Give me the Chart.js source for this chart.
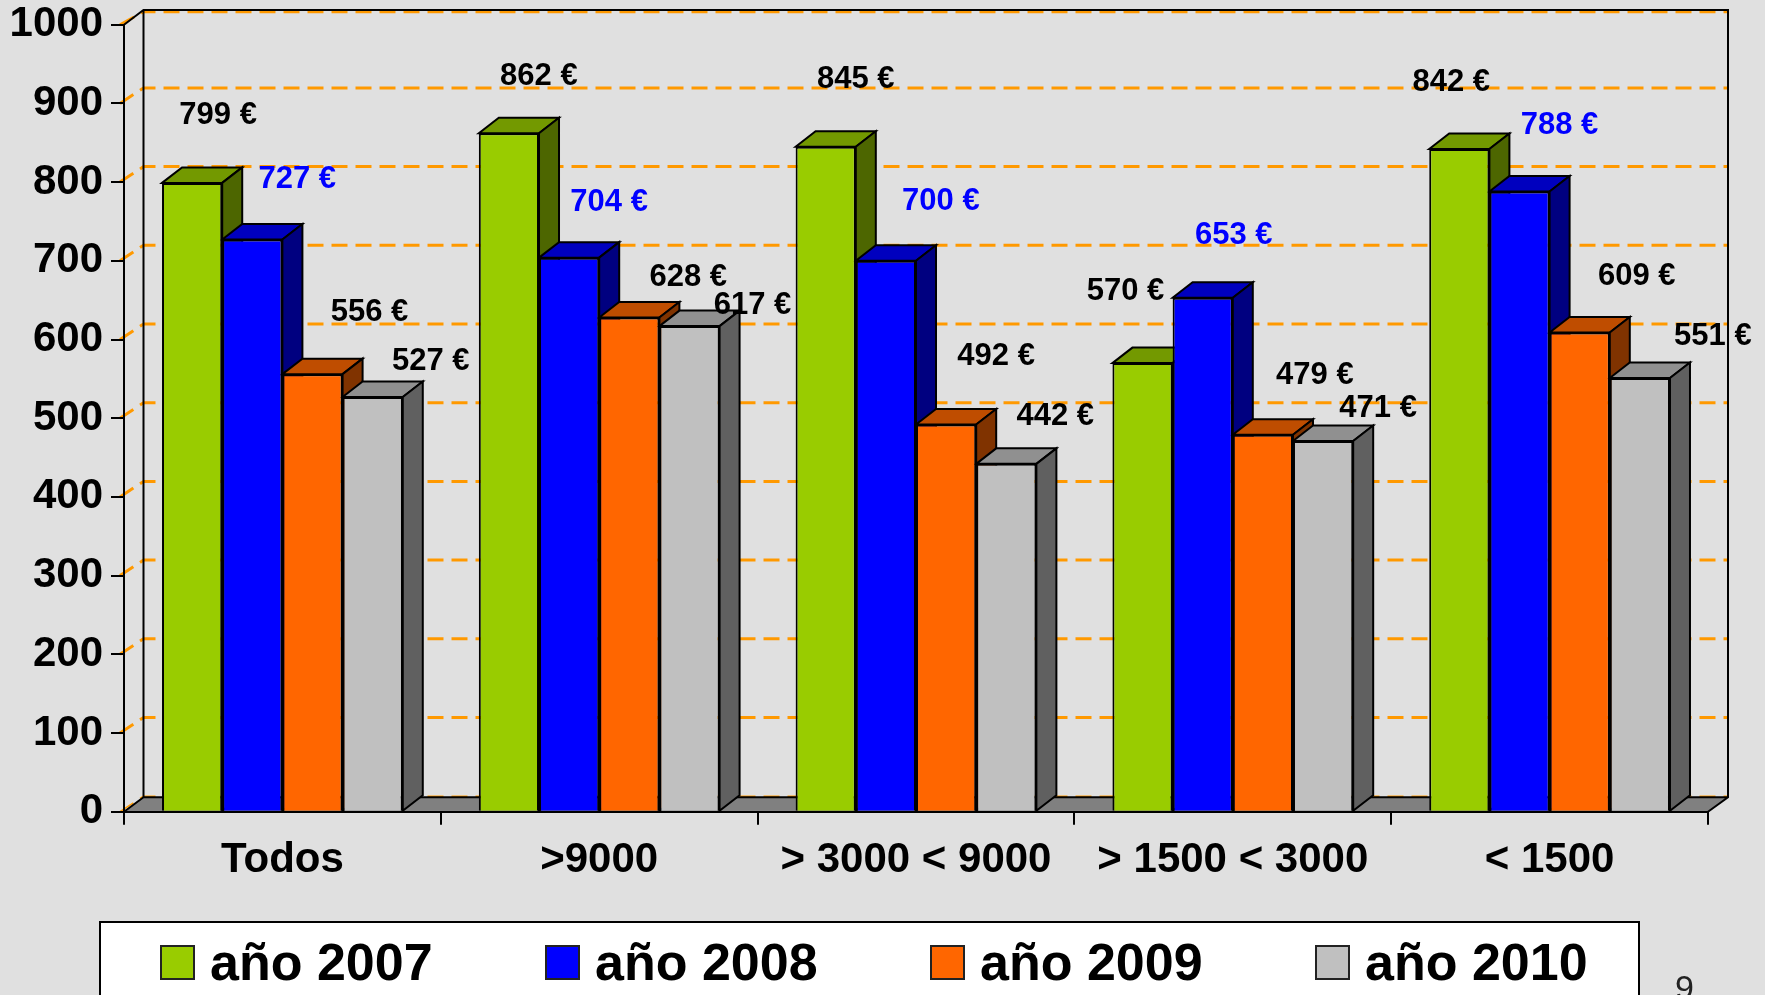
<!DOCTYPE html>
<html>
<head>
<meta charset="utf-8">
<title>Chart</title>
<script src="https://cdn.jsdelivr.net/npm/chart.js@4"></script>
<style>
  html, body { margin: 0; padding: 0; background: #e0e0e0; overflow: hidden; }
  #grafico { display: block; }
</style>
</head>
<body>
<div style="width:1765px;height:995px"><canvas id="grafico"></canvas></div>
<script>
const categorias = ["Todos", ">9000", "> 3000 < 9000", "> 1500 < 3000", "< 1500"];
const anio2007 = [799, 862, 845, 570, 842];
const anio2008 = [727, 704, 700, 653, 788];
const anio2009 = [556, 628, 492, 479, 609];
const anio2010 = [527, 617, 442, 471, 551];
const ticksY = [0, 100, 200, 300, 400, 500, 600, 700, 800, 900, 1000];

const FUENTE = '"Liberation Sans", Arial, sans-serif';
const PROF_X = 20, PROF_Y = 15.5; // depth of the fake 3D

// colours: front, top, side
const colores = [
  ["#99cc00", "#739900", "#4d6600"],
  ["#0000ff", "#0000bf", "#000080"],
  ["#ff6600", "#bf4d00", "#803300"],
  ["#c0c0c0", "#909090", "#606060"],
];

// the value labels were placed by hand in the original, shift from top centre of each bar
const desplazaEtiquetas = [
  [[26, -67], [30, -57], [30, -67], [-17, -72], [-8, -67]],
  [[45, -60], [40, -55], [55, -59], [31, -62], [40, -66]],
  [[57, -62], [59, -40], [50, -68], [52, -59], [57, -56]],
  [[58, -35], [63, -21], [49, -47], [55, -33], [73, -42]],
];

function poligono(ctx, puntos, relleno, borde) {
  ctx.beginPath();
  puntos.forEach((p, i) => (i ? ctx.lineTo(p[0], p[1]) : ctx.moveTo(p[0], p[1])));
  ctx.closePath();
  ctx.fillStyle = relleno;
  ctx.fill();
  if (borde) {
    ctx.strokeStyle = borde;
    ctx.lineWidth = 2;
    ctx.stroke();
  }
}

const caja3d = {
  id: "caja3d",
  // walls, floor and orange gridlines behind everything
  beforeDraw(chart) {
    const { ctx, chartArea: a, scales: { y } } = chart;
    const izq = a.left + PROF_X - 0.5, der = a.right + PROF_X;
    const arriba = 10, fondo = a.bottom - PROF_Y + 1;
    ctx.save();
    poligono(ctx, [[a.left, a.bottom], [izq, fondo], [der, fondo], [a.right, a.bottom]], "#808080", null);

    ctx.strokeStyle = "#ff9900";
    ctx.lineWidth = 3;
    ctx.setLineDash([16, 8]);
    ticksY.forEach((v) => {
      const yp = y.getPixelForValue(v);
      const yFondo = v === 1000 ? 11.7 : yp - PROF_Y;
      ctx.lineWidth = v === 0 ? 1.5 : 3;
      ctx.lineDashOffset = 4;
      ctx.beginPath();
      ctx.moveTo(izq, yFondo);
      ctx.lineTo(der - 1, yFondo);
      ctx.stroke();
      ctx.lineDashOffset = 0;
      ctx.beginPath();
      ctx.moveTo(a.left - 4, yp);
      ctx.lineTo(izq, yFondo);
      ctx.stroke();
    });
    ctx.setLineDash([]);

    ctx.strokeStyle = "#000";
    ctx.lineWidth = 2;
    ctx.beginPath();
    ctx.moveTo(a.left, a.top);
    ctx.lineTo(izq, arriba);
    ctx.lineTo(der, arriba);
    ctx.lineTo(der, fondo);
    ctx.lineTo(a.right, a.bottom);
    ctx.moveTo(izq, arriba);
    ctx.lineTo(izq, fondo);
    ctx.lineTo(der, fondo);
    ctx.moveTo(izq, fondo);
    ctx.lineTo(a.left, a.bottom);
    ctx.stroke();
    ctx.restore();
  },
  // top and side of each bar, the front comes from Chart.js on top of these
  beforeDatasetsDraw(chart) {
    const { ctx } = chart;
    ctx.save();
    categorias.forEach((_, c) => {
      chart.data.datasets.forEach((ds, d) => {
        const b = chart.getDatasetMeta(d).data[c];
        const x0 = b.x - b.width / 2, x1 = b.x + b.width / 2;
        const base = b.base, top = b.y;
        poligono(ctx, [[x0, top], [x0 + PROF_X, top - PROF_Y], [x1 + PROF_X, top - PROF_Y], [x1, top]], colores[d][1], "#000");
        poligono(ctx, [[x1, top], [x1 + PROF_X, top - PROF_Y], [x1 + PROF_X, base - PROF_Y], [x1, base]], colores[d][2], "#000");
      });
    });
    ctx.restore();
  },
  afterDatasetsDraw(chart) {
    const { ctx } = chart;
    ctx.save();
    ctx.font = "bold 31px " + FUENTE;
    ctx.textAlign = "center";
    ctx.textBaseline = "middle";
    chart.data.datasets.forEach((ds, d) => {
      ctx.fillStyle = d === 1 ? "#0000ff" : "#000";
      chart.getDatasetMeta(d).data.forEach((b, c) => {
        const s = desplazaEtiquetas[d][c];
        ctx.fillText(ds.data[c] + " €", b.x + s[0], b.y + s[1]);
      });
    });

    // legend box runs off the bottom of the slide
    ctx.fillStyle = "#fff";
    ctx.strokeStyle = "#000";
    ctx.lineWidth = 2;
    ctx.fillRect(100, 922, 1539, 90);
    ctx.strokeRect(100, 922, 1539, 90);
    ctx.textAlign = "left";
    ctx.textBaseline = "alphabetic";
    ctx.font = "bold 52px " + FUENTE;
    chart.data.datasets.forEach((ds, d) => {
      const x = 161 + d * 385;
      ctx.fillStyle = colores[d][0];
      ctx.fillRect(x, 946, 33, 33);
      ctx.strokeStyle = "#222";
      ctx.strokeRect(x, 946, 33, 33);
      ctx.fillStyle = "#000";
      ctx.fillText(ds.label, x + 49, 980);
    });

    // page number
    ctx.font = "34px " + FUENTE;
    ctx.fillStyle = "#222";
    ctx.fillText("9", 1675, 999);
    ctx.restore();
  },
};

const series = [anio2007, anio2008, anio2009, anio2010];
const nombres = ["año 2007", "año 2008", "año 2009", "año 2010"];

new Chart(document.getElementById("grafico"), {
  type: "bar",
  data: {
    labels: categorias,
    datasets: series.map((valores, i) => ({
      label: nombres[i],
      data: valores,
      backgroundColor: colores[i][0],
      borderColor: "#000",
      borderWidth: 2,
      categoryPercentage: 0.76,
      barPercentage: 1,
    })),
  },
  options: {
    responsive: true,
    maintainAspectRatio: false,
    animation: false,
    layout: { padding: { left: 0, right: 57, top: 24.7, bottom: 0 } },
    plugins: { legend: { display: false }, tooltip: { enabled: false } },
    scales: {
      x: {
        afterFit: (s) => { s.height = 995 - 811.7; s.paddingLeft = 0; s.paddingRight = 0; },
        grid: { offset: true, drawOnChartArea: false, color: "#000", lineWidth: 2, tickLength: 13 },
        border: { color: "#000", width: 2 },
        ticks: { color: "#000", font: { family: FUENTE, size: 42, weight: "bold" }, padding: 11, maxRotation: 0, autoSkip: false },
      },
      y: {
        min: 0,
        max: 1000,
        afterFit: (s) => { s.width = 124; s.paddingTop = 0; s.paddingBottom = 0; },
        grid: { drawOnChartArea: false, color: "#000", lineWidth: 2, tickLength: 13 },
        border: { color: "#000", width: 2 },
        ticks: { stepSize: 100, color: "#000", font: { family: FUENTE, size: 42, weight: "bold" }, padding: 8, callback: (v) => String(v) },
      },
    },
  },
  plugins: [caja3d],
});
</script>
</body>
</html>
